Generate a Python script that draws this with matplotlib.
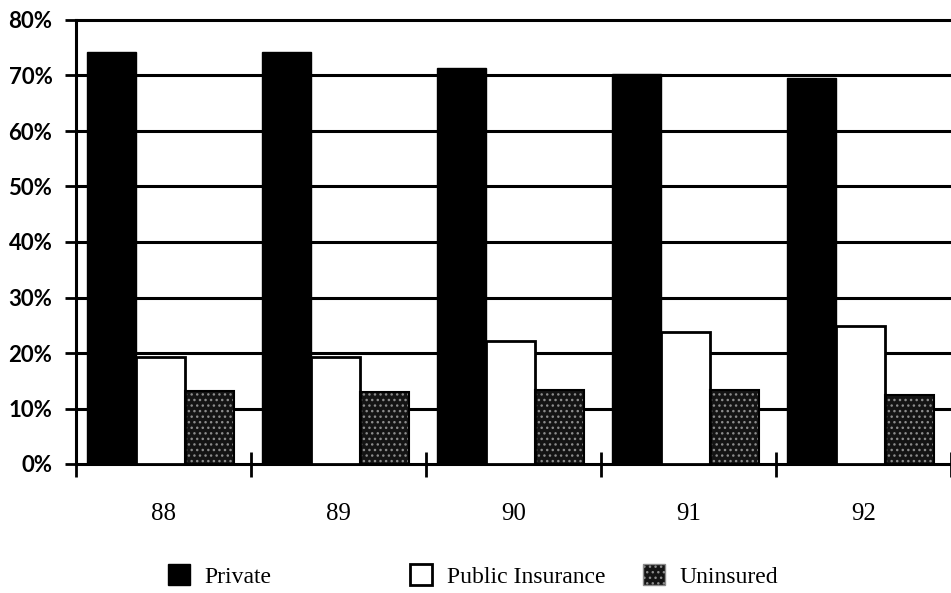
import numpy as np
import matplotlib.pyplot as plt
from matplotlib.patches import Patch

# values (percent of total)
years = ["88", "89", "90", "91", "92"]
private = [74.3, 74.3, 71.4, 70.2, 69.6]
public = [19.3, 19.3, 22.1, 23.8, 24.9]
uninsured = [13.2, 13.0, 13.3, 13.4, 12.4]
yticks = [0, 10, 20, 30, 40, 50, 60, 70, 80]

serif = "Liberation Serif"
sans = "Lato"

fig = plt.figure(figsize=(9.51, 5.93), dpi=100)
ax = fig.add_axes([76 / 951, 1 - 464 / 593, 1 - 76 / 951, 444 / 593])

x = np.arange(len(years)) + 0.5
w = 0.28

ax.bar(x - 0.295, private, w, color="black", edgecolor="black", linewidth=1, zorder=2)
ax.bar(x - 0.02, public, w, color="white", edgecolor="black", linewidth=2, zorder=3)
# stippled dark fill for uninsured, outline drawn on top
ax.bar(x + 0.265, uninsured, w, color="#141414", edgecolor="#8c8c8c", hatch="...",
       linewidth=0, zorder=2)
ax.bar(x + 0.265, uninsured, w, fill=False, edgecolor="black", linewidth=1.5, zorder=3)

ax.set_xlim(0, len(years))
ax.set_ylim(0, 80)

# horizontal gridlines behind the bars
for yv in yticks[1:-1]:
    ax.axhline(yv, color="black", linewidth=2.2, zorder=1)

ax.set_yticks(yticks)
ax.set_yticklabels([f"{v}%" for v in yticks], fontfamily=sans, fontsize=16,
                   fontweight="bold")
ax.tick_params(axis="y", direction="inout", length=16, width=2, pad=9)

ax.set_xticks(np.arange(len(years) + 1))
ax.set_xticklabels([])
ax.set_xticks(x, minor=True)
ax.set_xticklabels(years, minor=True, fontfamily=serif, fontsize=18)
ax.tick_params(axis="x", which="major", direction="inout", length=18, width=2)
ax.tick_params(axis="x", which="minor", length=0, pad=28)

for s in ["left", "bottom", "top"]:
    ax.spines[s].set_linewidth(2.2)
ax.spines["right"].set_visible(False)

# legend entries spaced as in the original
entries = [
    ("Private", dict(facecolor="black", edgecolor="black"), 168),
    ("Public Insurance", dict(facecolor="white", edgecolor="black", linewidth=2), 410),
    ("Uninsured", dict(facecolor="#141414", edgecolor="#8c8c8c", hatch="..."), 643),
]
for label, style, px in entries:
    fig.legend(handles=[Patch(label=label, **style)], loc="center left",
               bbox_to_anchor=(px / 951, 1 - 576 / 593), frameon=False,
               prop={"family": serif, "size": 17}, handlelength=0.95,
               handleheight=0.95, handletextpad=0.6, borderaxespad=0,
               borderpad=0)

fig.savefig("out.png", dpi=100)
